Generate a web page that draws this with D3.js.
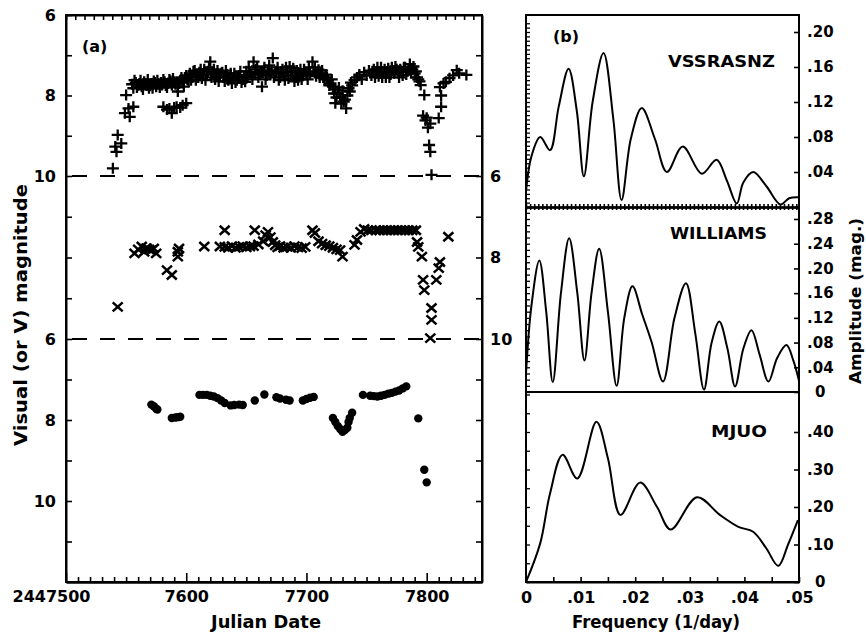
<!DOCTYPE html>
<html><head><meta charset="utf-8">
<script src="https://cdn.jsdelivr.net/npm/d3@7"></script>
<style>body{margin:0;background:#fff}svg{display:block}</style>
</head><body>
<svg id="c" width="866" height="635"></svg>
<script>
// ---------- DATA ----------
// (a) light curves: [Julian Date - 2440000, magnitude]
const vssrasnzPlus = [
[7539,9.81],[7541,9.27],[7542,9.40],[7543,8.98],[7546,9.19],
[7549,8.44],[7552,8.32],[7553,8.53],[7556,8.28],[7550,7.99],
[7555,7.72],[7557,7.62],[7559,7.80],[7561,7.70],[7563,7.78],[7565,7.66],[7567,7.75],[7569,7.82],[7571,7.70],[7573,7.64],
[7575,7.78],[7577,7.72],[7579,7.68],[7581,7.60],[7583,7.75],[7585,7.70],[7587,7.64],[7589,7.58],[7591,7.72],[7593,7.90],
[7593,7.80],[7595,7.62],[7597,7.68],[7599,7.55],[7601,7.60],
[7556,7.82],[7558,7.68],[7560,7.74],[7562,7.62],[7564,7.85],[7566,7.70],[7568,7.60],[7570,7.76],[7572,7.82],[7574,7.68],
[7576,7.62],[7578,7.80],[7580,7.74],[7582,7.66],[7584,7.80],[7586,7.60],[7588,7.74],[7590,7.66],[7594,7.70],[7596,7.55],
[7598,7.78],[7600,7.50],[7602,7.65],
[7581,8.28],[7584,8.35],[7586,8.32],[7588,8.44],[7590,8.30],[7592,8.28],[7595,8.30],[7597,8.24],[7600,8.19],
[7603,7.45],[7605,7.55],[7607,7.38],[7609,7.50],[7611,7.42],[7613,7.58],[7615,7.35],[7617,7.48],[7619,7.30],[7620,7.16],
[7622,7.45],[7624,7.60],[7626,7.38],[7628,7.52],[7630,7.42],[7632,7.65],[7634,7.48],[7636,7.55],[7638,7.70],[7640,7.45],
[7642,7.62],[7644,7.50],[7646,7.68],[7648,7.55],[7650,7.40],[7652,7.30],[7654,7.48],[7656,7.16],[7658,7.35],[7660,7.55],
[7662,7.42],[7663,7.78],[7665,7.30],[7667,7.50],[7669,7.25],[7671,7.38],[7672,7.07],[7674,7.45],[7676,7.30],[7678,7.55],
[7604,7.62],[7606,7.40],[7608,7.62],[7610,7.55],[7612,7.35],[7614,7.50],[7616,7.62],[7618,7.40],[7621,7.55],[7623,7.35],
[7625,7.50],[7627,7.65],[7629,7.45],[7631,7.55],[7633,7.38],[7635,7.62],[7637,7.45],[7639,7.58],[7641,7.68],[7643,7.55],
[7645,7.40],[7647,7.60],[7649,7.66],[7651,7.50],[7653,7.42],[7655,7.60],[7657,7.45],[7659,7.28],[7661,7.48],[7664,7.40],
[7666,7.60],[7668,7.38],[7670,7.45],[7673,7.55],[7675,7.40],[7677,7.62],[7679,7.45],
[7680,7.35],[7682,7.62],[7684,7.42],[7686,7.28],[7688,7.50],[7690,7.65],[7692,7.38],[7694,7.45],[7696,7.60],[7698,7.35],
[7700,7.48],[7702,7.30],[7705,7.16],[7706,7.40],[7708,7.52],[7710,7.36],[7712,7.45],[7714,7.55],[7716,7.48],
[7681,7.50],[7683,7.30],[7685,7.58],[7687,7.40],[7689,7.32],[7691,7.55],[7693,7.62],[7695,7.35],[7697,7.50],[7699,7.42],
[7701,7.60],[7703,7.45],[7707,7.30],[7709,7.45],[7711,7.55],[7713,7.38],[7715,7.60],[7717,7.55],
[7718,7.62],[7720,7.70],[7722,7.78],[7724,7.85],[7724,8.19],[7726,7.95],[7728,8.05],[7730,7.88],[7731,8.15],[7733,8.32],
[7734,8.00],[7736,7.90],[7738,7.75],
[7719,7.75],[7721,7.60],[7723,7.95],[7725,8.05],[7727,7.80],[7729,8.20],[7732,8.10],[7735,7.82],[7737,7.68],
[7740,7.62],[7742,7.55],[7744,7.48],[7746,7.60],[7748,7.42],[7750,7.50],[7752,7.38],
[7754,7.50],[7756,7.35],[7758,7.45],[7760,7.52],[7762,7.30],[7764,7.42],[7766,7.55],[7768,7.32],[7770,7.48],[7772,7.38],
[7774,7.28],[7776,7.45],[7778,7.35],[7780,7.50],[7782,7.30],[7784,7.40],[7786,7.22],[7788,7.35],[7790,7.45],[7792,7.55],
[7755,7.40],[7757,7.55],[7759,7.30],[7761,7.45],[7763,7.55],[7765,7.35],[7767,7.42],[7769,7.55],[7771,7.30],[7773,7.45],
[7775,7.35],[7777,7.55],[7779,7.40],[7781,7.30],[7783,7.48],[7785,7.35],[7787,7.45],[7789,7.28],[7791,7.40],[7793,7.60],
[7794,7.65],[7795,7.74],[7798,7.99],[7797,8.50],[7799,8.62],[7801,8.80],[7800,8.55],[7803,8.70],[7802,9.23],[7803,9.40],[7804,9.97],
[7810,8.56],[7812,8.28],[7812,8.00],[7811,7.79],[7814,7.70],[7816,7.66],[7819,7.57],[7822,7.50],[7825,7.37],[7827,7.45],[7833,7.49]
];
const williamsCross = [
[7543,9.21],[7557,7.90],[7560,7.80],[7563,7.73],[7565,7.86],[7567,7.77],[7569,7.80],[7571,7.82],[7573,7.78],[7575,7.90],
[7584,8.31],[7588,8.43],[7593,7.86],[7593,7.98],[7594,7.78],
[7615,7.73],[7628,7.73],[7632,7.33],[7632,7.74],[7635,7.76],[7638,7.72],[7641,7.76],[7644,7.74],[7647,7.72],[7650,7.75],
[7653,7.73],[7656,7.72],[7657,7.33],[7660,7.68],[7664,7.60],[7666,7.45],[7668,7.37],[7670,7.50],[7672,7.62],[7674,7.70],
[7676,7.75],[7678,7.72],[7681,7.76],[7684,7.74],[7687,7.76],[7690,7.72],[7693,7.75],[7696,7.77],[7699,7.74],
[7705,7.33],[7707,7.40],[7710,7.60],[7713,7.66],[7716,7.70],[7719,7.72],[7722,7.76],[7725,7.80],[7728,7.82],[7730,7.98],
[7740,7.69],[7742,7.57],[7745,7.37],[7748,7.30],[7751,7.33],[7754,7.33],[7758,7.33],[7761,7.33],[7764,7.33],[7767,7.33],
[7770,7.33],[7773,7.33],[7776,7.33],[7779,7.33],[7782,7.33],[7785,7.33],[7788,7.33],[7791,7.33],
[7792,7.62],[7793,7.74],[7796,7.98],[7797,8.55],[7798,8.80],[7808,8.55],[7810,8.26],[7811,8.11],[7804,9.24],[7804,9.53],
[7803,9.98],[7818,7.49]
];
const mjuoDots = [
[7571,7.62],[7573,7.66],[7575,7.72],[7576,7.74],
[7588,7.95],[7591,7.94],[7593,7.93],[7595,7.92],
[7611,7.38],[7614,7.38],[7617,7.38],[7620,7.40],[7623,7.42],[7626,7.46],[7629,7.52],[7632,7.58],
[7637,7.64],[7640,7.63],[7644,7.62],[7647,7.63],
[7657,7.52],[7665,7.37],
[7675,7.44],[7678,7.47],[7683,7.50],[7686,7.52],
[7697,7.52],[7700,7.48],[7703,7.45],[7706,7.43],
[7722,7.95],[7724,8.05],[7726,8.15],[7728,8.22],[7730,8.29],[7732,8.25],[7734,8.19],[7735,8.05],[7736,7.95],[7738,7.82],
[7747,7.38],[7753,7.40],[7756,7.41],[7759,7.42],[7762,7.40],[7765,7.38],[7768,7.35],[7771,7.33],[7774,7.30],[7777,7.27],
[7780,7.22],[7783,7.17],
[7793,7.96],[7798,9.23],[7800,9.54]
];
// (b) amplitude spectra: [frequency (1/day), amplitude (mag)]
const vssrasnzSpec = [
[0,0.018],[0.001,0.058],[0.0026,0.080],[0.0044,0.065],[0.0060,0.115],[0.0078,0.158],[0.0093,0.110],[0.0106,0.035],
[0.0122,0.120],[0.0142,0.176],[0.0160,0.100],[0.0175,0.008],[0.0192,0.078],[0.0212,0.113],[0.0236,0.078],[0.0258,0.040],
[0.0287,0.069],[0.0322,0.038],[0.0349,0.054],[0.0368,0.030],[0.0386,0.004],[0.0398,0.028],[0.0416,0.040],[0.0440,0.024],
[0.0466,0.003],[0.0482,0.010],[0.0500,0.011]
];
const williamsSpec = [
[0,0.03],[0.001,0.14],[0.00244,0.213],[0.0037,0.13],[0.0049,0.016],[0.0064,0.16],[0.0079,0.249],[0.0094,0.16],
[0.0107,0.051],[0.0120,0.16],[0.0134,0.232],[0.0150,0.13],[0.0166,0.010],[0.0180,0.12],[0.0195,0.171],[0.0213,0.125],
[0.0230,0.081],[0.0251,0.017],[0.0272,0.12],[0.0293,0.176],[0.0310,0.095],[0.0326,0.004],[0.0340,0.08],[0.0354,0.114],
[0.0369,0.07],[0.0383,0.009],[0.0398,0.07],[0.0413,0.100],[0.0428,0.06],[0.0444,0.017],[0.0460,0.055],[0.0477,0.076],
[0.0490,0.05],[0.0500,0.018]
];
const mjuoSpec = [
[0,0],[0.0026,0.103],[0.0044,0.236],[0.0067,0.339],[0.0094,0.276],[0.0129,0.427],[0.0150,0.33],[0.0173,0.179],
[0.0209,0.265],[0.0240,0.20],[0.0265,0.140],[0.0313,0.226],[0.0355,0.179],[0.0389,0.147],[0.0416,0.134],[0.0440,0.09],
[0.0462,0.043],[0.0480,0.10],[0.0498,0.165]
];
const jdTicks = [7500, 7600, 7700, 7800];
const freqTicks = [0, 0.01, 0.02, 0.03, 0.04, 0.05];
const ampTicks1 = [0.04, 0.08, 0.12, 0.16, 0.20];
const ampTicks2 = [0, 0.04, 0.08, 0.12, 0.16, 0.20, 0.24, 0.28];
const ampTicks3 = [0, 0.1, 0.2, 0.3, 0.4];
const panelNames = ["VSSRASNZ", "WILLIAMS", "MJUO"];

// ---------- DRAW ----------
const svg = d3.select('#c');
const F = "'DejaVu Sans', sans-serif";
const LW = 2;

const xL = d3.scaleLinear().domain([7500, 7846]).range([66, 482]);
const yTop = d3.scaleLinear().domain([6, 10]).range([15, 176]);
const yMid = d3.scaleLinear().domain([6, 10]).range([176, 339]);
const yBot = d3.scaleLinear().domain([6, 12]).range([339, 582]);

const xR = d3.scaleLinear().domain([0, 0.05]).range([526, 799]);
const yR1 = d3.scaleLinear().domain([0, 0.2]).range([207, 32]);
const yR2 = d3.scaleLinear().domain([0, 0.28]).range([392, 219]);
const yR3 = d3.scaleLinear().domain([0, 0.4]).range([582, 432]);

function styleAxis(g, size, weight) {
  g.selectAll('path.domain').attr('stroke', '#000').attr('stroke-width', LW);
  g.selectAll('line').attr('stroke', '#000').attr('stroke-width', 1.6);
  g.selectAll('text').attr('font-family', F).attr('font-size', size).attr('font-weight', weight || 'bold').attr('fill', '#000');
}
const noLab = () => '';
const magFmt = d => (d % 2 === 0 ? d : '');

// ---- left panel axes ----
const gl1 = svg.append('g').attr('transform', 'translate(66,0)')
  .call(d3.axisLeft(yTop).tickValues([6,7,8,9,10]).tickSizeInner(-6).tickSizeOuter(0).tickPadding(10).tickFormat(magFmt));
styleAxis(gl1, 16);
const gl2 = svg.append('g').attr('transform', 'translate(66,0)')
  .call(d3.axisLeft(yMid).tickValues([7,8,9]).tickSizeInner(-6).tickSizeOuter(0).tickFormat(noLab));
styleAxis(gl2, 16);
const gl3 = svg.append('g').attr('transform', 'translate(66,0)')
  .call(d3.axisLeft(yBot).tickValues([6,7,8,9,10,11]).tickSizeInner(-6).tickSizeOuter(0).tickPadding(10).tickFormat(d => (d===6||d===8||d===10)? d : ''));
styleAxis(gl3, 16);
const gr1 = svg.append('g').attr('transform', 'translate(482,0)')
  .call(d3.axisRight(yTop).tickValues([7,8,9]).tickSizeInner(-6).tickSizeOuter(0).tickFormat(noLab));
styleAxis(gr1, 16);
const gr2 = svg.append('g').attr('transform', 'translate(482,0)')
  .call(d3.axisRight(yMid).tickValues([6,7,8,9,10]).tickSizeInner(-6).tickSizeOuter(0).tickPadding(8).tickFormat(magFmt));
styleAxis(gr2, 16);
const gr3 = svg.append('g').attr('transform', 'translate(482,0)')
  .call(d3.axisRight(yBot).tickValues([7,8,9,10,11]).tickSizeInner(-6).tickSizeOuter(0).tickFormat(noLab));
styleAxis(gr3, 16);
const gb1 = svg.append('g').attr('transform', 'translate(0,582)')
  .call(d3.axisBottom(xL).tickValues(d3.range(7510, 7846, 10).filter(d => d % 100 !== 0)).tickSizeInner(-5).tickSizeOuter(0).tickFormat(noLab));
styleAxis(gb1, 16);
const gb2 = svg.append('g').attr('transform', 'translate(0,582)')
  .call(d3.axisBottom(xL).tickValues(jdTicks).tickSizeInner(-9).tickSizeOuter(0).tickPadding(9)
    .tickFormat(d => d === 7500 ? String(2440000 + d) : d));
styleAxis(gb2, 16);
gb2.selectAll('.tick text').filter(d => d === 7500).attr('dx', -15);
const gt1 = svg.append('g').attr('transform', 'translate(0,15)')
  .call(d3.axisTop(xL).tickValues(d3.range(7500, 7846, 7.7)).tickSizeInner(-5).tickSizeOuter(0).tickFormat(noLab));
styleAxis(gt1, 16);

// dashed panel separators
[yTop(10), yMid(10)].forEach(y => {
  svg.append('line').attr('x1', xL(7500)).attr('x2', xL(7846)).attr('y1', y).attr('y2', y)
    .attr('stroke', '#000').attr('stroke-width', 2).attr('stroke-dasharray', '15,13').attr('stroke-dashoffset', -6);
});

// markers
svg.append('g').selectAll('path').data(vssrasnzPlus).join('path')
  .attr('transform', d => `translate(${xL(d[0])},${yTop(d[1])})`)
  .attr('d', 'M-6,0H6M0,-5.5V5.5').attr('stroke', '#000').attr('stroke-width', 2.3).attr('fill', 'none');
svg.append('g').selectAll('path').data(williamsCross).join('path')
  .attr('transform', d => `translate(${xL(d[0])},${yMid(d[1])})`)
  .attr('d', 'M-5,-4.5L5,4.5M-5,4.5L5,-4.5').attr('stroke', '#000').attr('stroke-width', 2.5).attr('fill', 'none');
svg.append('g').selectAll('circle').data(mjuoDots).join('circle')
  .attr('cx', d => xL(d[0])).attr('cy', d => yBot(d[1])).attr('r', 4.2).attr('fill', '#000');

// ---- right panel ----
const defs = svg.append('defs');
[[15,207],[207,392],[392,582]].forEach((p,i) => {
  defs.append('clipPath').attr('id', 'cp' + i).append('rect')
    .attr('x', 526).attr('y', p[0]).attr('width', 273).attr('height', p[1]-p[0]);
});
const ampFmt = d => d === 0 ? '0' : d3.format('.2f')(d).replace(/^0/, '');
[[yR1, ampTicks1], [yR2, ampTicks2], [yR3, ampTicks3]].forEach(([s, t]) => {
  const g = svg.append('g').attr('transform', 'translate(799,0)')
    .call(d3.axisRight(s).tickValues(t).tickSizeInner(-5).tickSizeOuter(0).tickPadding(8).tickFormat(ampFmt));
  styleAxis(g, 15);
  g.select('path.domain').remove();
  g.selectAll('.tick text').filter(d => d === 0).attr('dx', 8);
});
[[yR1, d3.range(0, 0.215, 0.005)], [yR2, d3.range(0, 0.295, 0.01)], [yR3, d3.range(0, 0.51, 0.05)]].forEach(([s, t]) => {
  const g = svg.append('g').attr('transform', 'translate(526,0)')
    .call(d3.axisRight(s).tickValues(t).tickSizeInner(4).tickSizeOuter(0).tickFormat(noLab));
  styleAxis(g, 15);
  g.select('path.domain').remove();
  g.selectAll('line').attr('stroke-width', 1.3);
});
const fb1 = svg.append('g').attr('transform', 'translate(0,582)')
  .call(d3.axisBottom(xR).tickValues(d3.range(0, 0.0501, 0.005)).tickSizeInner(-5).tickSizeOuter(0).tickPadding(10)
    .tickFormat(d => freqTicks.some(f => Math.abs(f - d) < 1e-9) ? ampFmt(d) : ''));
styleAxis(fb1, 16);
const bead = d3.range(0, 0.0501, 0.00075);
const sepA = svg.append('g').attr('transform', 'translate(0,207)')
  .call(d3.axisBottom(xR).tickValues(bead).tickSizeInner(3).tickSizeOuter(0).tickFormat(noLab));
styleAxis(sepA, 10); sepA.select('path.domain').attr('stroke-width', 2.5);
const sepB = svg.append('g').attr('transform', 'translate(0,207)')
  .call(d3.axisTop(xR).tickValues(bead).tickSizeInner(3).tickSizeOuter(0).tickFormat(noLab));
styleAxis(sepB, 10);
svg.append('line').attr('x1', 526).attr('x2', 799).attr('y1', 392).attr('y2', 392).attr('stroke', '#000').attr('stroke-width', LW);

const specs = [[vssrasnzSpec, yR1], [williamsSpec, yR2], [mjuoSpec, yR3]];
specs.forEach(([data, ys], i) => {
  const line = d3.line().x(d => xR(d[0])).y(d => ys(d[1])).curve(d3.curveCatmullRom.alpha(0.5));
  svg.append('path').datum(data).attr('d', line).attr('clip-path', `url(#cp${i})`)
    .attr('fill', 'none').attr('stroke', '#000').attr('stroke-width', 2);
});

svg.append('rect').attr('x', 66).attr('y', 15).attr('width', 416).attr('height', 567)
  .attr('fill', 'none').attr('stroke', '#000').attr('stroke-width', LW);
svg.append('rect').attr('x', 526).attr('y', 15).attr('width', 273).attr('height', 567)
  .attr('fill', 'none').attr('stroke', '#000').attr('stroke-width', LW);

function txt(x, y, s, size, opts) {
  const t = svg.append('text').attr('x', x).attr('y', y).text(s)
    .attr('font-family', F).attr('font-size', size).attr('font-weight', 'bold').attr('fill', '#000');
  if (opts && opts.anchor) t.attr('text-anchor', opts.anchor);
  if (opts && opts.len) t.attr('textLength', opts.len).attr('lengthAdjust', 'spacingAndGlyphs');
  if (opts && opts.rot) t.attr('transform', `rotate(-90,${x},${y})`);
  return t;
}
txt(82, 52, '(a)', 16);
txt(553, 42, '(b)', 16);
txt(668, 67, panelNames[0], 16, {len: 107});
txt(670, 239, panelNames[1], 16, {len: 97});
txt(711, 437, panelNames[2], 16, {len: 56});
txt(266, 628, 'Julian Date', 17, {anchor: 'middle', len: 110});
txt(656, 628, 'Frequency (1/day)', 17, {anchor: 'middle', len: 168});
txt(27, 315, 'Visual (or V)  magnitude', 17, {anchor: 'middle', len: 262, rot: true});
txt(861, 301, 'Amplitude (mag.)', 16, {anchor: 'middle', len: 166, rot: true});
</script>
</body></html>
